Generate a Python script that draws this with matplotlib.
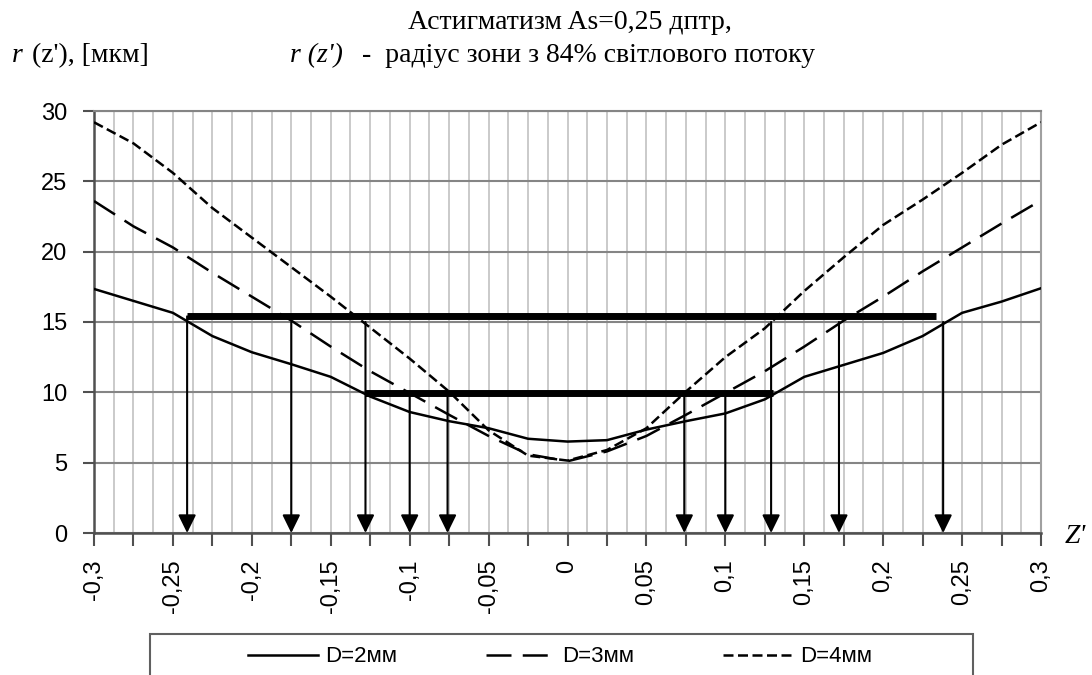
import matplotlib
matplotlib.use('Agg')
import numpy as np
import matplotlib.pyplot as plt
from matplotlib.patches import Rectangle
from matplotlib.ticker import MultipleLocator

# z' values (step 0.025) and the 84% zone radius for each pupil diameter
z = [-0.3, -0.275, -0.25, -0.225, -0.2, -0.175, -0.15, -0.125, -0.1, -0.075, -0.05, -0.025,
     0.0, 0.025, 0.05, 0.075, 0.1, 0.125, 0.15, 0.175, 0.2, 0.225, 0.25, 0.275, 0.3]
r_d2 = [17.35, 16.5, 15.65, 14.0, 12.85, 12.0, 11.1, 9.7, 8.6, 7.95, 7.45, 6.7,
        6.5, 6.6, 7.35, 7.95, 8.5, 9.5, 11.1, 11.95, 12.8, 14.0, 15.65, 16.45, 17.4]
r_d3 = [23.6, 21.8, 20.3, 18.5, 16.8, 15.1, 13.25, 11.5, 9.95, 8.4, 6.9, 5.6,
        5.1, 5.8, 6.9, 8.4, 9.95, 11.5, 13.25, 15.1, 16.8, 18.6, 20.3, 22.0, 23.65]
r_d4 = [29.2, 27.7, 25.6, 23.1, 21.0, 18.9, 16.8, 14.6, 12.4, 10.05, 7.3, 5.5,
        5.15, 5.9, 7.45, 10.05, 12.5, 14.55, 17.2, 19.6, 21.9, 23.7, 25.6, 27.6, 29.2]
labels = ['D=2мм', 'D=3мм', 'D=4мм']

# thick level lines and the arrows dropped from the crossings
level_y = [15.4, 9.95]
level_x0 = [-0.241, -0.128]
level_x1 = [0.2335, 0.1305]
arrow_x = [-0.241, -0.175, -0.128, -0.1, -0.076, 0.074, 0.1, 0.129, 0.172, 0.238]
arrow_top = [15.4, 15.0, 15.0, 10.0, 10.0, 10.0, 10.0, 15.0, 15.0, 15.0]

xticks = [-0.3, -0.275, -0.25, -0.225, -0.2, -0.175, -0.15, -0.125, -0.1, -0.075, -0.05, -0.025,
          0.0, 0.025, 0.05, 0.075, 0.1, 0.125, 0.15, 0.175, 0.2, 0.225, 0.25, 0.275, 0.3]
xtick_labels = ['-0,3', '', '-0,25', '', '-0,2', '', '-0,15', '', '-0,1', '', '-0,05', '',
                '0', '', '0,05', '', '0,1', '', '0,15', '', '0,2', '', '0,25', '', '0,3']

plt.rcParams['font.family'] = ['Liberation Sans', 'DejaVu Sans']
serif = ['Liberation Serif', 'DejaVu Serif']

W, H = 1092, 675
fig = plt.figure(figsize=(W / 100, H / 100), dpi=100)
ax = fig.add_axes([94 / W, 1 - 533 / H, (1041 - 94) / W, (533 - 111) / H])

ax.plot(z, r_d2, color='black', lw=1.8, ls='-', label=labels[0], zorder=3)
ax.plot(z, r_d3, color='black', lw=1.8, ls=(0, (10, 4.5)), label=labels[1], zorder=3)
ax.plot(z, r_d4, color='black', lw=1.8, ls=(0, (4, 1.8)), label=labels[2], zorder=3)

for x, top in zip(arrow_x, arrow_top):
    ax.annotate('', xy=(x, 0), xytext=(x, top),
                arrowprops=dict(arrowstyle='-|>,head_length=0.55,head_width=0.27',
                                color='black', lw=1.5, mutation_scale=20,
                                shrinkA=0, shrinkB=0), zorder=4)

ax.hlines(level_y, level_x0, level_x1, colors='black', lw=5, zorder=5, capstyle='butt')

ax.set_xlim(-0.3, 0.3)
ax.set_ylim(0, 30)
ax.set_xticks(xticks)
ax.set_xticklabels(xtick_labels)
ax.xaxis.set_minor_locator(MultipleLocator(0.0125))
ax.yaxis.set_major_locator(MultipleLocator(5))
ax.set_axisbelow(True)
ax.grid(axis='x', which='both', color='#c6c6c6', lw=1.3)
ax.grid(axis='y', which='major', color='#858585', lw=1.5)

ax.tick_params(axis='x', which='major', direction='out', length=9, width=1.5,
               color='#505050', pad=10, labelsize=17, labelrotation=90)
ax.tick_params(axis='x', which='minor', length=0)
ax.tick_params(axis='y', direction='out', length=8, width=1.5,
               color='#505050', pad=11, labelsize=17)
for s in ['left', 'bottom']:
    ax.spines[s].set_color('#505050')
    ax.spines[s].set_linewidth(1.8)
ax.spines['top'].set_color('#858585')
ax.spines['top'].set_linewidth(1.5)
ax.spines['right'].set_color('#a0a0a0')
ax.spines['right'].set_linewidth(1.5)

# titles and axis captions
fig.text(570 / W, 1 - 29 / H, 'Астигматизм As=0,25 дптр,', family=serif, size=20,
         ha='center', va='baseline')
fig.text(290 / W, 1 - 62 / H, "r (z')", family=serif, style='italic', size=20,
         ha='left', va='baseline')
fig.text(362 / W, 1 - 62 / H, '-  радіус зони з 84% світлового потоку', family=serif,
         size=20, ha='left', va='baseline')
fig.text(12 / W, 1 - 62 / H, 'r', family=serif, style='italic', size=20,
         ha='left', va='baseline')
fig.text(32 / W, 1 - 62 / H, "(z'), [мкм]", family=serif, size=20,
         ha='left', va='baseline')
fig.text(1065 / W, 1 - 543 / H, "Z'", family=serif, style='italic', size=20,
         ha='left', va='baseline')

# legend box (runs off the bottom edge in the original)
fig.add_artist(Rectangle((150 / W, -0.05), (973 - 150) / W, 0.05 + 1 - 634 / H,
                         transform=fig.transFigure, fill=False, ec='#606060', lw=1.5))
handles, labs = ax.get_legend_handles_labels()
fig.legend(handles, labs, loc='center', bbox_to_anchor=(560 / W, 1 - 657 / H), ncol=3,
           frameon=False, fontsize=16, handlelength=3.15, handletextpad=0.3,
           columnspacing=4.0)

fig.savefig('out.png', dpi=100)
